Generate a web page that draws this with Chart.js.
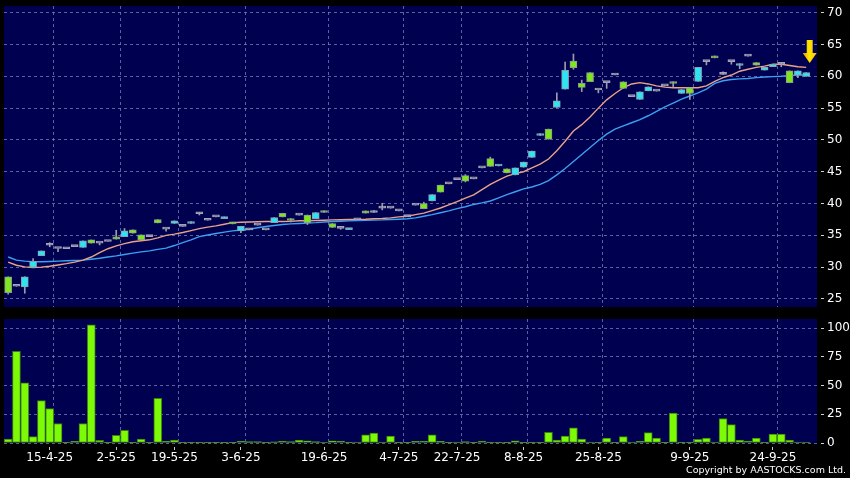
<!DOCTYPE html>
<html><head><meta charset="utf-8">
<script src="https://cdn.jsdelivr.net/npm/chart.js@4.4.1/dist/chart.umd.min.js"></script>
<style>
html,body{margin:0;padding:0;background:#000;}
body{width:850px;height:478px;position:relative;overflow:hidden;}
#wrapMain{position:absolute;left:0;top:0;width:850px;height:312px;}
#wrapVol{position:absolute;left:0;top:312px;width:850px;height:166px;}
#copy{position:absolute;right:4px;top:464px;color:#fff;font-family:"DejaVu Sans",sans-serif;font-size:9.5px;line-height:11px;white-space:nowrap;}
</style></head><body>
<div id="wrapMain"><canvas id="main" width="850" height="312"></canvas></div>
<div id="wrapVol"><canvas id="vol" width="850" height="166"></canvas></div>
<div id="copy">Copyright by AASTOCKS.com Ltd.</div>
<script>
// ---------- data ----------
const openP = [26.0,27.0,28.5,30.9,32.55,33.45,32.93,32.9,33.24,34.13,
33.77,33.77,34.03,34.4,35.7,35.34,34.29,34.8,36.96,35.97,
37.28,36.4,37.17,38.4,37.38,37.9,37.9,36.8,36.4,35.86,
36.6,35.86,37.8,37.9,37.33,38.17,37.0,38.6,38.6,36.23,
36.1,36.1,37.45,38.5,38.6,39.27,39.27,38.85,37.95,39.75,
39.18,41.4,41.8,43.1,43.77,43.5,43.87,45.6,45.85,46.1,
44.8,45.6,46.53,48.26,51.0,50.1,56.13,60.93,61.35,58.27,
59.16,57.85,59.0,60.2,58.1,56.8,57.56,58.35,57.67,58.5,
58.87,57.93,57.3,61.4,62.3,62.9,60.3,62.3,62.0,63.17,
61.75,61.4,61.9,61.9,58.98,60.86,60.6];
const highP = [28.5,27.0,28.5,31.35,32.55,33.85,32.93,32.9,33.24,34.13,
34.29,33.77,34.03,35.8,36.07,35.86,35.08,34.8,37.49,35.97,
37.28,36.4,37.17,38.6,37.38,37.9,37.9,37.07,36.4,35.86,
36.6,35.86,37.8,38.48,37.64,38.17,38.2,38.6,38.85,36.86,
36.1,36.1,37.45,38.85,38.9,40.05,39.27,38.85,37.95,39.75,
40.2,41.4,42.9,43.1,43.77,44.55,43.87,45.6,47.3,46.1,
45.44,45.6,46.53,48.26,51.0,51.7,57.4,62.24,63.5,59.4,
60.6,57.85,59.0,60.2,59.15,56.8,57.56,58.35,57.67,58.5,
59.14,57.93,58.2,61.4,62.3,63.2,60.7,62.3,62.0,63.17,
62.17,61.4,61.9,62.0,60.86,60.86,60.6];
const lowP = [25.75,27.0,25.9,29.95,31.8,33.2,32.45,32.9,33.24,33.1,
33.77,33.5,34.03,34.4,34.8,35.34,34.29,34.8,36.96,35.65,
36.86,36.4,36.86,38.2,37.38,37.9,37.64,36.8,35.44,35.86,
36.6,35.86,37.0,37.9,37.1,38.17,36.7,37.64,38.6,36.23,
35.95,35.9,37.45,38.5,38.6,39.0,39.27,38.85,37.95,39.75,
39.18,40.4,41.8,43.1,43.77,43.4,43.87,45.6,45.85,45.9,
44.8,44.5,45.7,47.26,50.7,50.1,55.09,57.96,61.1,57.6,
59.16,57.4,58.1,60.2,58.1,56.8,56.36,57.72,57.67,58.5,
58.3,57.3,56.36,59.2,61.8,62.9,60.3,61.9,61.2,63.17,
61.75,60.97,61.5,61.5,58.98,59.8,60.0];
const closeP = [28.5,27.0,26.9,29.95,31.8,33.45,32.93,32.9,33.24,33.1,
34.29,33.77,34.03,34.76,34.8,35.86,35.08,34.8,37.49,35.97,
36.86,36.4,36.86,38.4,37.38,37.9,37.64,37.07,35.7,35.86,
36.6,35.86,37.0,38.48,37.64,38.17,38.2,37.64,38.85,36.86,
36.1,35.9,37.45,38.85,38.6,39.27,39.27,38.85,37.95,39.75,
40.0,40.4,42.9,43.1,43.77,44.4,43.87,45.6,47.05,45.9,
45.44,44.5,45.7,47.26,50.7,51.7,55.09,57.96,62.4,58.9,
60.6,57.85,59.0,60.2,59.15,56.8,56.36,57.72,57.67,58.5,
59.14,57.3,58.2,59.2,62.3,63.2,60.3,62.3,61.7,63.17,
62.17,60.97,61.5,61.9,60.86,60.18,60.0];
const maShort = [30.8,30.3,30.05,29.95,30.0,30.15,30.35,30.55,30.8,31.1,
31.6,32.3,32.9,33.35,33.7,34.0,34.15,34.3,34.6,35.0,
35.2,35.45,35.75,36.05,36.3,36.5,36.75,37.0,37.05,37.1,
37.15,37.17,37.17,37.17,37.2,37.3,37.3,37.33,37.38,37.43,
37.46,37.49,37.52,37.54,37.6,37.64,37.75,37.9,38.0,38.25,
38.5,38.9,39.3,39.8,40.3,40.85,41.35,42.2,43.0,43.7,
44.3,44.7,45.0,45.6,46.2,47.0,48.3,49.8,51.4,52.4,
53.6,55.0,56.3,57.3,58.2,58.8,59.0,58.8,58.5,58.3,
58.2,58.2,58.2,58.2,58.5,59.2,59.8,60.2,60.8,61.1,
61.4,61.6,61.9,61.9,61.7,61.5,61.4];
const maLong = [31.6,31.1,30.95,30.85,30.85,30.9,30.95,31.0,31.05,31.1,
31.25,31.4,31.6,31.78,32.0,32.2,32.4,32.56,32.8,33.0,
33.4,33.87,34.3,34.8,35.05,35.3,35.5,35.7,35.85,35.97,
36.2,36.4,36.55,36.7,36.8,36.86,36.93,37.0,37.1,37.17,
37.22,37.28,37.33,37.38,37.4,37.43,37.5,37.54,37.6,37.75,
38.0,38.25,38.55,38.85,39.2,39.5,39.86,40.1,40.4,40.9,
41.4,41.85,42.3,42.6,43.0,43.6,44.5,45.5,46.6,47.7,
48.8,49.9,50.9,51.7,52.2,52.7,53.2,53.8,54.5,55.2,
55.8,56.4,56.9,57.4,58.0,58.9,59.3,59.5,59.6,59.66,
59.8,59.9,59.95,60.0,60.1,60.2,60.2];
const volume = [3.5,80,52.5,5.5,37,30,17,0.6,1.5,17,
103,2.3,0.3,6.7,11,0.3,3.5,0.3,39,1.5,
2.6,0.3,0.3,0.2,0.2,0.2,0.3,0.6,1.7,1.2,
1.2,0.6,1.0,1.7,1.2,2.6,2.0,1.2,0.5,2.0,
1.7,0.3,0.9,7.2,8.7,0.9,6.1,0.3,0.3,1.4,
1.7,7.2,1.4,0.3,0.9,1.2,0.3,1.7,0.6,0.3,
0.3,2.0,0.6,0.3,0.6,9.3,2.6,6.1,13.3,3.5,
0.9,0.3,4.3,0.3,5.5,0.9,1.4,9.0,4.3,0.3,
26,0.3,0.3,3.2,4.3,0.9,21.2,16,2.6,1.7,
4.3,0.3,7.8,7.8,2.6,0.9,0.9];
const dateTickIdx = [5,13,20,28,38,47,54,62,71,82,92];
const dateLabels = ['15-4-25','2-5-25','19-5-25','3-6-25','19-6-25','4-7-25','22-7-25','8-8-25','25-8-25','9-9-25','24-9-25'];
const priceTicks = [25,30,35,40,45,50,55,60,65,70];
const volTicks = [0,25,50,75,100];

// ---------- styles ----------
const NAVY = '#000050';
const GRID = 'rgba(125,125,190,0.75)';
const UP = '#7ee61e', DOWN = '#2fe4f2', DOJI = '#a4a4b6';
const UP_B = '#8c9c8c', DOWN_B = '#8ca0b0';
const WICK = '#9c9cae';
const FONT = {family: '"DejaVu Sans", sans-serif', size: 12};

const idx = closeP.map((_, i) => i);
const X_MIN = -0.5, X_MAX = 97.3;

const bgPlugin = {
  id: 'navy',
  beforeDraw(chart) {
    const {ctx, chartArea: a} = chart;
    ctx.save(); ctx.fillStyle = NAVY;
    ctx.fillRect(a.left, a.top, a.right - a.left, a.bottom - a.top);
    ctx.restore();
  }
};
const arrowPlugin = {
  id: 'arrow',
  afterDatasetsDraw(chart) {
    const {ctx, scales: {x, y}} = chart;
    const last = idx.length - 1;
    const cx = x.getPixelForValue(last) + 3.5;
    const tip = y.getPixelForValue(highP[last] + 1.5);
    const headH = 10, headW = 7, shaftW = 3, len = 23;
    ctx.save();
    const g = ctx.createLinearGradient(cx - headW, 0, cx + headW, 0);
    g.addColorStop(0, '#e39a00'); g.addColorStop(0.45, '#ffe600'); g.addColorStop(1, '#f5c400');
    ctx.fillStyle = g;
    ctx.beginPath();
    ctx.moveTo(cx - shaftW, tip - len);
    ctx.lineTo(cx + shaftW, tip - len);
    ctx.lineTo(cx + shaftW, tip - headH);
    ctx.lineTo(cx + headW, tip - headH);
    ctx.lineTo(cx, tip);
    ctx.lineTo(cx - headW, tip - headH);
    ctx.lineTo(cx - shaftW, tip - headH);
    ctx.closePath();
    ctx.fill();
    ctx.restore();
  }
};

function candleColor(i) {
  const o = openP[i], c = closeP[i];
  return c > o ? UP : (c < o ? DOWN : DOJI);
}
function candleBorder(i) {
  const o = openP[i], c = closeP[i];
  return c > o ? UP_B : (c < o ? DOWN_B : DOJI);
}
const noPad = a => { a.paddingTop = 0; a.paddingBottom = 0; a.paddingLeft = 0; a.paddingRight = 0; };

const yTickStyle = {color: '#ffffff', font: FONT, padding: 3};
const yGrid = {color: GRID, lineWidth: 1, drawTicks: true, tickLength: 7, tickColor: '#d0d0d0', tickBorderDash: [0, 4, 3]};
const xGridAxis = {
  type: 'linear', min: X_MIN, max: X_MAX, offset: false,
  afterBuildTicks: a => { a.ticks = dateTickIdx.map(v => ({value: v + 0.5})); },
  afterFit: a => { a.height = 0; noPad(a); },
  ticks: {display: false},
  grid: {color: GRID, drawTicks: false, offset: false},
  border: {display: false, dash: [3, 3]}
};

new Chart(document.getElementById('main'), {
  type: 'bar',
  data: {
    datasets: [
      {
        type: 'bar', order: 1, grouped: false,
        data: idx.map(i => ({x: i, y: [openP[i], closeP[i]]})),
        barThickness: 7, borderWidth: 1, borderSkipped: false, minBarLength: 2,
        backgroundColor: c => candleColor(c.dataIndex),
        borderColor: c => candleBorder(c.dataIndex)
      },
      {
        type: 'bar', order: 2, grouped: false,
        data: idx.map(i => ({x: i, y: [lowP[i], highP[i]]})),
        barThickness: 1, borderWidth: 0, backgroundColor: WICK
      },
      {
        type: 'line', order: 3,
        data: idx.map(i => ({x: i, y: maShort[i]})),
        borderColor: '#e9a386', borderWidth: 1.4, pointRadius: 0, tension: 0
      },
      {
        type: 'line', order: 4,
        data: idx.map(i => ({x: i, y: maLong[i]})),
        borderColor: '#3d9ff0', borderWidth: 1.4, pointRadius: 0, tension: 0
      }
    ]
  },
  options: {
    responsive: false, animation: false, devicePixelRatio: 1,
    layout: {padding: {left: 4, top: 6, right: 0, bottom: 5}},
    plugins: {legend: {display: false}, tooltip: {enabled: false}},
    scales: {
      x: xGridAxis,
      y: {
        position: 'right', min: 23.74, max: 71.05,
        afterBuildTicks: a => { a.ticks = priceTicks.map(v => ({value: v})); },
        afterFit: a => { a.width = 33; noPad(a); },
        ticks: yTickStyle,
        grid: yGrid,
        border: {display: false, dash: [3, 3]}
      }
    }
  },
  plugins: [bgPlugin, arrowPlugin]
});

new Chart(document.getElementById('vol'), {
  type: 'bar',
  data: {
    datasets: [{
      data: idx.map(i => ({x: i, y: volume[i]})),
      barThickness: 8, borderWidth: 1, borderSkipped: false,
      backgroundColor: '#7dfa05', borderColor: '#3b7d12'
    }]
  },
  options: {
    responsive: false, animation: false, devicePixelRatio: 1,
    layout: {padding: {left: 4, top: 7, right: 0, bottom: 0}},
    plugins: {legend: {display: false}, tooltip: {enabled: false}},
    scales: {
      x: xGridAxis,
      x2: {
        type: 'linear', position: 'bottom', min: X_MIN, max: X_MAX, offset: false,
        afterBuildTicks: a => { a.ticks = dateTickIdx.map(v => ({value: v})); },
        afterFit: a => { a.height = 35; noPad(a); },
        ticks: {color: '#ffffff', font: FONT, padding: 1, autoSkip: false, maxRotation: 0,
                callback: (v, i) => dateLabels[i]},
        grid: {drawOnChartArea: false, drawTicks: true, offset: false, tickLength: 7, tickColor: '#c8c8c8', tickBorderDash: [0, 4, 3]},
        border: {display: false}
      },
      y: {
        position: 'right', min: 0, max: 108.1,
        afterBuildTicks: a => { a.ticks = volTicks.map(v => ({value: v})); },
        afterFit: a => { a.width = 33; noPad(a); },
        ticks: yTickStyle,
        grid: yGrid,
        border: {display: false, dash: [3, 3]}
      }
    }
  },
  plugins: [bgPlugin]
});
</script>
</body></html>
